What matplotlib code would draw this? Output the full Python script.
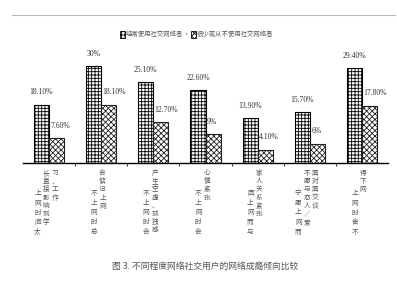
import matplotlib
matplotlib.use("Agg")
import matplotlib.pyplot as plt
import matplotlib.transforms as mtrans
from matplotlib.lines import Line2D
from matplotlib.patches import Rectangle
import numpy as np

plt.rcParams['font.family'] = ['Noto Sans CJK SC', 'DejaVu Sans']
plt.rcParams['hatch.linewidth'] = 0.6

# ---- data ----
series_names = ["经常使用社交网络者", "很少或从不使用社交网络者"]
frequent = [18.1, 30.0, 25.1, 22.6, 13.9, 15.7, 29.4]
rare = [7.6, 18.1, 12.7, 9.0, 4.1, 6.0, 17.8]
frequent_labels = ["18.10%", "30%", "25.10%", "22.60%", "13.90%", "15.70%", "29.40%"]
rare_labels = ["7.60%", "18.10%", "12.70%", "9%", "4.10%", "6%", "17.80%"]
category_columns = [
    ["上网时间太", "长直接影响到学", "习、工作"],
    ["不上网时总", "会惦记上网"],
    ["不上网时会", "产生空虚、孤独感"],
    ["不上网时会", "心情紧张"],
    ["因上网而与", "家人关系紧张"],
    ["宁愿上网而", "不愿与恋人／爱", "面对面交谈"],
    ["上网时舍不", "得下网"],
]
caption = "图 3. 不同程度网络社交用户的网络成瘾倾向比较"

W, H = 397, 292
fig = plt.figure(figsize=(W / 100, H / 100), dpi=100)
fig.patch.set_facecolor("white")

ax_left, ax_right = 23 / W, 388 / W
ax_bottom = 1 - 163 / H
ax_top = 1 - 50 / H
ax = fig.add_axes([ax_left, ax_bottom, ax_right - ax_left, ax_top - ax_bottom])

n = len(frequent)
x = np.arange(n)
bw = 0.29
ax.bar(x - bw / 2, frequent, bw, facecolor="white", edgecolor="black",
       hatch="+++++", linewidth=0.8)
ax.bar(x + bw / 2, rare, bw, facecolor="white", edgecolor="#222222",
       hatch="xxxxxx", linewidth=0.8)

ax.set_xlim(-0.5, n - 0.5)
ax.set_ylim(0, 35)
for s in ["top", "right", "left"]:
    ax.spines[s].set_visible(False)
ax.spines["bottom"].set_linewidth(1.0)
ax.set_yticks([])
ax.set_xticks(np.arange(0.5, n - 0.5, 1.0))
ax.set_xticklabels([])
ax.tick_params(axis="x", length=2, width=0.8, direction="out", color="#444")

num_font = dict(family=["Liberation Serif"], fontsize=5.5, color="#333333")
for i in range(n):
    ax.annotate(frequent_labels[i], (x[i] - bw / 2, frequent[i]),
                xytext=(0, 6), textcoords="offset points", ha="center",
                va="bottom", **num_font)
    ax.annotate(rare_labels[i], (x[i], rare[i]),
                xytext=(1, 6), textcoords="offset points", ha="left",
                va="bottom", **num_font)

# vertical category labels, one character at a time
blend = mtrans.blended_transform_factory(ax.transData, fig.transFigure)
px_per_unit = (388 - 23) / n
col_gap = 8.5 / px_per_unit
shift = -3 / px_per_unit
for i, cols in enumerate(category_columns):
    k = len(cols)
    for j, col in enumerate(cols):
        cx = x[i] + shift + (j - (k - 1) / 2) * col_gap
        y0, pitch = (193, 9.7) if j == 0 else (173, 8.2)
        for m, ch in enumerate(col):
            ax.text(cx, 1 - (y0 + m * pitch) / H, ch, transform=blend,
                    ha="center", va="center", fontsize=4.8, color="#555555",
                    clip_on=False)

# legend (manual, inline)
ly = 1 - 34 / H
leg_fs = 4.6
fig.patches.append(Rectangle((120 / W, ly - 3.5 / H), 5 / W, 7 / H,
                             transform=fig.transFigure, facecolor="white",
                             edgecolor="black", hatch="+++++", linewidth=0.6))
fig.text(126 / W, ly, series_names[0], fontsize=leg_fs, color="#555555",
         va="center", ha="left")
fig.text(184 / W, ly, "，", fontsize=leg_fs, color="#555555", va="center")
fig.patches.append(Rectangle((191 / W, ly - 3.5 / H), 5 / W, 7 / H,
                             transform=fig.transFigure, facecolor="white",
                             edgecolor="black", hatch="xxxxxx", linewidth=0.6))
fig.text(197 / W, ly, series_names[1], fontsize=leg_fs, color="#555555",
         va="center", ha="left")

# top rule
fig.add_artist(Line2D([12 / W, 395 / W], [1 - 15 / H, 1 - 15 / H],
                      transform=fig.transFigure, color="#bbbbbb", linewidth=0.8))

fig.text(205 / W, 1 - 266 / H, caption, fontsize=6.3, color="#555555",
         ha="center", va="center")

fig.savefig("out.png", dpi=100, facecolor="white")
